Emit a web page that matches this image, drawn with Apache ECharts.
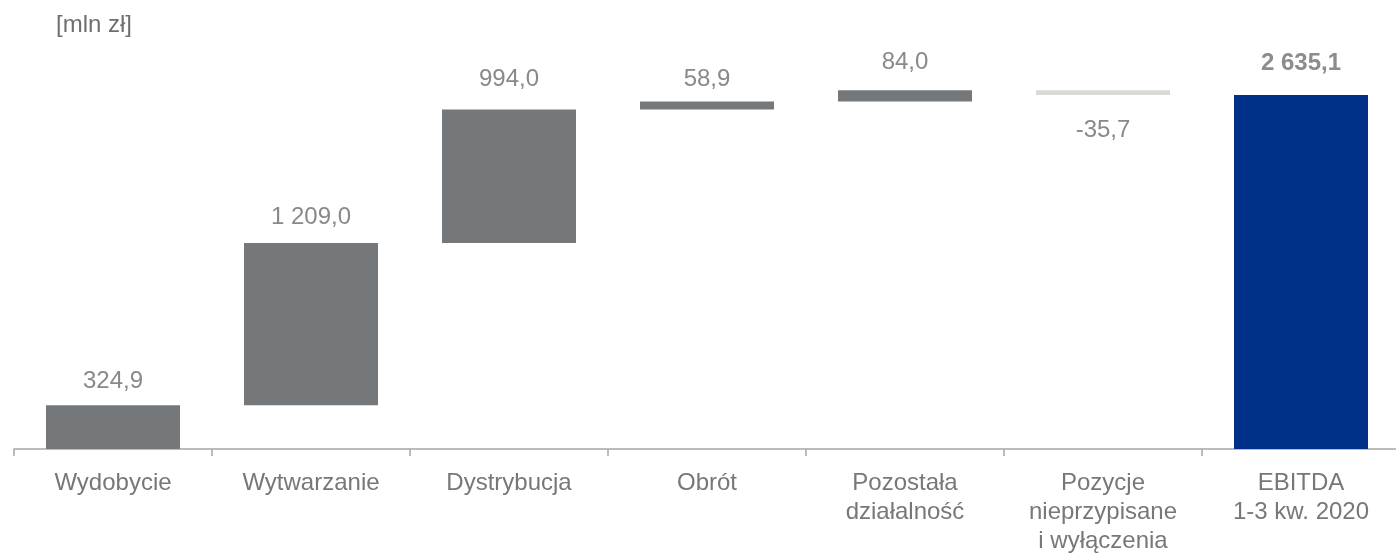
<!DOCTYPE html>
<html>
<head>
<meta charset="utf-8">
<script src="https://cdn.jsdelivr.net/npm/echarts@6/dist/echarts.min.js"></script>
<style>
html,body{margin:0;padding:0;background:#fff;}
#chart{width:1396px;height:554px;}
</style>
</head>
<body>
<div id="chart"></div>
<script>
// ---- data ----
var categories = ['Wydobycie', 'Wytwarzanie', 'Dystrybucja', 'Obrót', 'Pozostała\ndziałalność', 'Pozycje\nnieprzypisane\ni wyłączenia', 'EBITDA\n1-3 kw. 2020'];
var values = [324.9, 1209.0, 994.0, 58.9, 84.0, -35.7, 2635.1];
var isTotal = [false, false, false, false, false, false, true];
var unitLabel = '[mln zł]';

// ---- formatting helpers ----
function fmtPL(v) {
  var s = Math.abs(v).toFixed(1).split('.');
  var intPart = s[0].replace(/\B(?=(\d{3})+(?!\d))/g, ' ');
  return (v < 0 ? '-' : '') + intPart + ',' + s[1];
}

// ---- build waterfall ----
var labelGap = [12, 14, 18, 10, 16, 23, 20];
var baseData = [], barData = [];
var running = 0;
for (var i = 0; i < values.length; i++) {
  var v = values[i];
  var base, h;
  if (isTotal[i]) { base = 0; h = v; }
  else if (v >= 0) { base = running; h = v; running += v; }
  else { running += v; base = running; h = -v; }
  baseData.push(base);
  var color = isTotal[i] ? '#003087' : (v < 0 ? '#d9d9d6' : '#75787b');
  barData.push({
    value: h,
    itemStyle: { color: color },
    label: {
      show: true,
      position: v < 0 ? 'bottom' : 'top',
      distance: labelGap[i],
      formatter: fmtPL(v),
      fontWeight: isTotal[i] ? 'bold' : 'normal',
      color: isTotal[i] ? '#8c8c8c' : '#898989'
    }
  });
}

var FONT = 'Liberation Sans, Arial, sans-serif';
var chart = echarts.init(document.getElementById('chart'), null, { renderer: 'canvas' });
chart.setOption({
  animation: false,
  backgroundColor: '#ffffff',
  textStyle: { fontFamily: FONT },
  title: {
    text: unitLabel,
    left: 51, top: 8,
    textStyle: { fontSize: 24, fontWeight: 'normal', color: '#6f6f6f', fontFamily: FONT }
  },
  grid: { left: 14, width: 1386, top: 46, bottom: 105, containLabel: false, outerBoundsMode: 'none' },
  xAxis: {
    type: 'category',
    data: categories,
    axisLine: { show: true, lineStyle: { color: '#a6a6a6', width: 1.5 } },
    axisTick: { show: true, length: 7, lineStyle: { color: '#a6a6a6', width: 1.5 } },
    axisLabel: {
      interval: 0, margin: 20, fontSize: 24, lineHeight: 29,
      color: '#75787b', fontFamily: FONT, align: 'center'
    }
  },
  yAxis: {
    type: 'value', min: 0, max: 3000, show: false,
    splitLine: { show: false }
  },
  series: [
    {
      type: 'bar', stack: 'w', data: baseData, barWidth: 134,
      itemStyle: { color: 'rgba(0,0,0,0)' }, silent: true
    },
    {
      type: 'bar', stack: 'w', data: barData, barWidth: 134,
      label: { show: true, fontSize: 24, fontFamily: FONT }
    }
  ]
});
</script>
</body>
</html>
